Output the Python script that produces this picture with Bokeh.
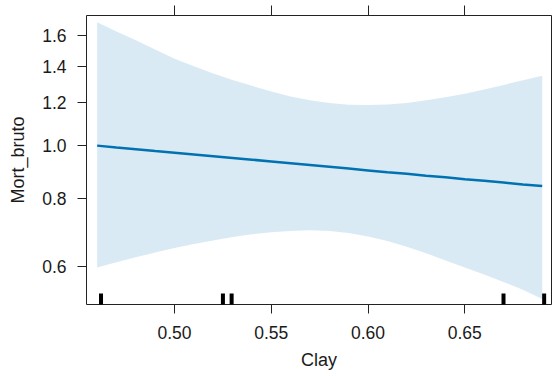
from bokeh.plotting import figure
from bokeh.models import Range1d, FixedTicker, PrintfTickFormatter, LinearAxis, ColumnDataSource
from bokeh.embed import file_html
from bokeh.resources import INLINE

# ---- data ----
clay = [0.46, 0.47, 0.48, 0.49, 0.50, 0.51, 0.52, 0.53, 0.54, 0.55, 0.56, 0.57,
        0.58, 0.59, 0.60, 0.61, 0.62, 0.63, 0.64, 0.65, 0.66, 0.67, 0.68, 0.69]
fit = [1.001, 0.993, 0.986, 0.978, 0.971, 0.964, 0.957, 0.950, 0.943, 0.936, 0.929, 0.922,
       0.915, 0.908, 0.901, 0.894, 0.888, 0.881, 0.875, 0.868, 0.862, 0.856, 0.849, 0.843]
upper = [1.690, 1.625, 1.566, 1.505, 1.448, 1.402, 1.360, 1.323, 1.290, 1.259, 1.233, 1.213,
         1.199, 1.191, 1.189, 1.192, 1.200, 1.213, 1.229, 1.248, 1.270, 1.295, 1.321, 1.347]
lower = [0.597, 0.610, 0.623, 0.636, 0.648, 0.659, 0.669, 0.679, 0.687, 0.693, 0.697, 0.699,
         0.697, 0.691, 0.681, 0.668, 0.652, 0.634, 0.615, 0.597, 0.579, 0.561, 0.543, 0.522]
rug_clay = [0.462, 0.525, 0.5295, 0.670, 0.691]
x_ticks = [0.50, 0.55, 0.60, 0.65]
y_ticks = [0.6, 0.8, 1.0, 1.2, 1.4, 1.6]
x_lim = (0.4545, 0.6948)
y_lim = (0.510, 1.739)

FONT = "Liberation Sans"
LINE = "#0072B2"
INK = "#222222"

p = figure(width=553, height=376, y_axis_type="log",
           x_range=Range1d(*x_lim), y_range=Range1d(*y_lim),
           output_backend="svg", toolbar_location=None,
           min_border_left=86, min_border_right=2, min_border_top=15, min_border_bottom=72)
p.grid.visible = False
p.outline_line_color = INK
p.outline_line_width = 1
p.background_fill_color = "white"
p.border_fill_color = "white"

# band, fit line, rug
p.varea(x=clay, y1=lower, y2=upper, fill_color=LINE, fill_alpha=0.15)
p.line(clay, fit, line_color=LINE, line_width=2.5)
rug_src = ColumnDataSource(dict(x=rug_clay, y=[y_lim[0]] * len(rug_clay)))
p.rect(x="x", y="y", width=4, height=22, width_units="screen", height_units="screen",
       fill_color="black", line_color=None, source=rug_src)

# axes
xa = p.xaxis[0]
xa.ticker = FixedTicker(ticks=x_ticks)
xa.formatter = PrintfTickFormatter(format="%.2f")
xa.axis_label = "Clay"
ya = p.yaxis[0]
ya.ticker = FixedTicker(ticks=y_ticks)
ya.formatter = PrintfTickFormatter(format="%.1f")
ya.axis_label = "Mort_bruto"

for ax in (xa, ya):
    ax.axis_line_color = None
    ax.major_tick_line_color = INK
    ax.major_tick_out = 9
    ax.major_tick_in = 0
    ax.minor_tick_line_color = None
    ax.major_label_text_font = FONT
    ax.major_label_text_font_size = "17.5px"
    ax.major_label_text_color = "#1a1a1a"
    ax.axis_label_text_font = FONT
    ax.axis_label_text_font_size = "18px"
    ax.axis_label_text_font_style = "normal"
    ax.axis_label_text_color = "#1a1a1a"
xa.major_label_standoff = 12
xa.axis_label_standoff = 8
ya.major_label_standoff = 11
ya.axis_label_standoff = 11

top = LinearAxis(ticker=FixedTicker(ticks=x_ticks))
top.axis_line_color = None
top.major_tick_line_color = INK
top.major_tick_out = 10
top.major_tick_in = 0
top.minor_tick_line_color = None
top.major_label_text_color = None
top.major_label_text_font_size = "1px"
top.major_label_standoff = 0
p.add_layout(top, "above")

open("out.html", "w").write(file_html(p, INLINE))
